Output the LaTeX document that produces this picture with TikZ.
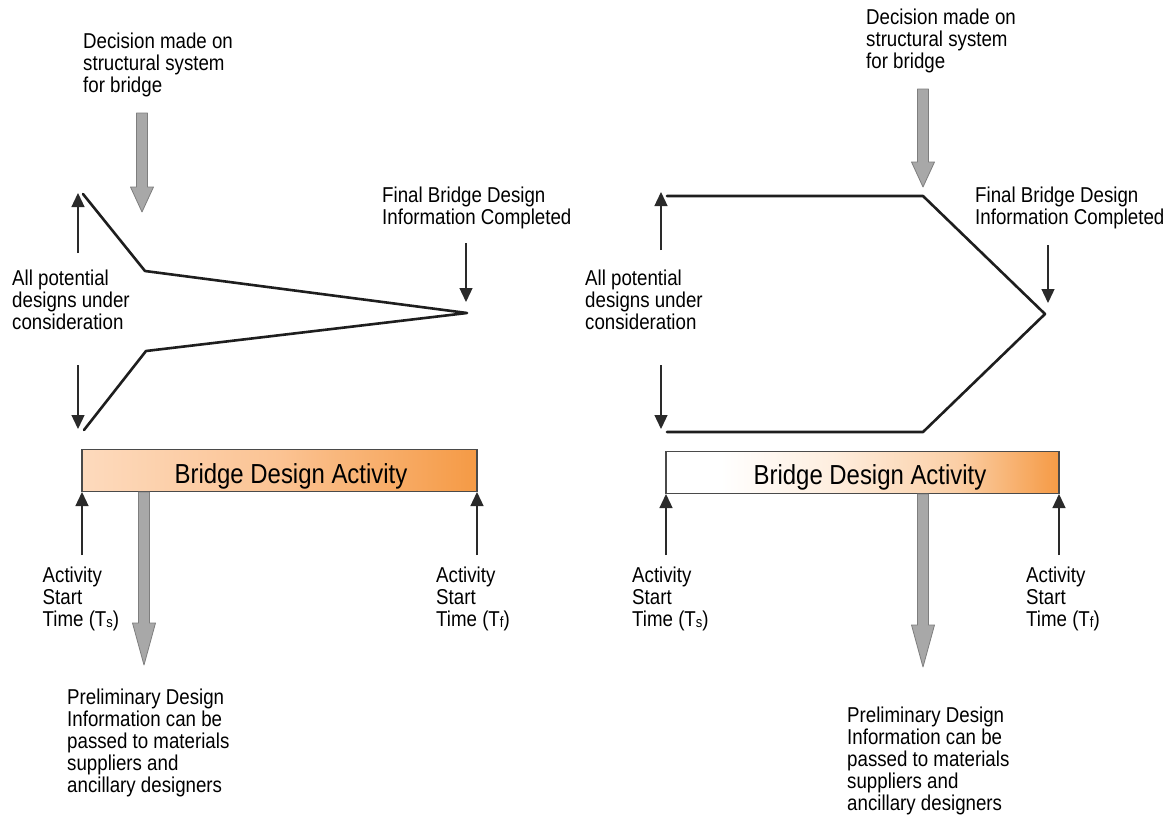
\documentclass[tikz,border=0pt]{standalone}
\usepackage{fontspec}
\setmainfont{Liberation Sans}[FakeStretch=0.87]
\usetikzlibrary{arrows.meta}

\definecolor{ink}{HTML}{1E1E1E}
\definecolor{shaft}{HTML}{2A2A2A}
\definecolor{frame}{HTML}{4A4A4A}
\definecolor{greyfill}{HTML}{A8A8A8}
\definecolor{greyedge}{HTML}{7E7E7E}
\definecolor{peachL}{HTML}{FDDABD}
\definecolor{peachM}{HTML}{FBC393}
\definecolor{peachR}{HTML}{F59A45}
\definecolor{peachF}{HTML}{FEEEDF}
\definecolor{peachG}{HTML}{FBCFA6}

% warm bar: pale peach to orange
\pgfdeclarehorizontalshading{barwarm}{100bp}{color(0bp)=(peachL); color(25bp)=(peachL); color(50bp)=(peachM); color(75bp)=(peachR); color(100bp)=(peachR)}
% fading bar: white first, orange at the far end
\pgfdeclarehorizontalshading{barfade}{100bp}{color(0bp)=(white); color(25bp)=(white); color(32bp)=(white); color(46bp)=(peachF); color(62bp)=(peachG); color(75bp)=(peachR); color(100bp)=(peachR)}

\newcommand{\lowidx}[1]{\raisebox{-1pt}{\fontsize{15}{15}\selectfont #1}}
% big grey arrow pointing down: centre x, top y, head start y, tip y
\newcommand{\greyarrow}[4]{%
  \path[greyarrowstyle] ({#1-5.5},#2) -- ({#1+5.5},#2) -- ({#1+5.5},#3) -- ({#1+11.5},#3)
    -- (#1,#4) -- ({#1-11.5},#3) -- ({#1-5.5},#3) -- cycle;}

\tikzset{
  txt/.style={anchor=north west, inner sep=0pt, align=left,
    font=\fontsize{21.5}{22}\selectfont},
  bartext/.style={anchor=base, inner sep=0pt, font=\fontsize{27.5}{30}\selectfont},
  bar/.style={draw=frame, line width=1.3pt, inner sep=0pt, minimum height=42pt},
  outline/.style={draw=ink, line width=2.6pt, line join=round, line cap=round},
  thin arrow/.style={draw=shaft, line width=1.3pt, -{Triangle[width=13pt,length=14pt]}},
  greyarrowstyle/.style={fill=greyfill, draw=greyedge, line width=0.8pt, line join=round},
}

\begin{document}
\begin{tikzpicture}[x=1pt, y=-1pt]
\useasboundingbox[fill=white] (0,0) rectangle (1170,814);

% ---------------- left panel: converging options ----------------
\node[txt] (decL) at (83,32.9) {Decision made on\\structural system\\for bridge};
\greyarrow{142}{113}{187}{212}

\draw[outline] (83,194) -- (145,271) -- (467,313) -- (146,351) -- (84,430);

\node[txt] (potL) at (12,269.6) {All potential\\designs under\\consideration};
\coordinate (potLup0) at (78,253);   \coordinate (potLup1) at (78,193);
\coordinate (potLdn0) at (78,365);   \coordinate (potLdn1) at (78,429);
\draw[thin arrow] (potLup0) -- (potLup1);
\draw[thin arrow] (potLdn0) -- (potLdn1);

\node[txt] (finL) at (382,186.9) {Final Bridge Design\\Information Completed};
\coordinate (finLa) at (466,243); \coordinate (finLb) at (466,302);
\draw[thin arrow] (finLa) -- (finLb);

\node[bar, shading=barwarm, minimum width=395pt] (barL) at (279.5,470.5) {};
\node[bartext] (barLtext) at (291,483.3) {Bridge Design Activity};

\coordinate (tsLa) at (82,555);  \coordinate (tsLb) at (82,492);
\coordinate (tfLa) at (477,555); \coordinate (tfLb) at (477,492);
\draw[thin arrow] (tsLa) -- (tsLb);
\draw[thin arrow] (tfLa) -- (tfLb);
\node[txt] (tsL) at (42.5,566.3) {Activity\\Start\\Time (T\lowidx{s})};
\node[txt] (tfL) at (436,566.3) {Activity\\Start\\Time (T\lowidx{f})};

\greyarrow{144}{492}{623}{665}
\node[txt] (preL) at (67,688.6) {Preliminary Design\\Information can be\\passed to materials\\suppliers and\\ancillary designers};

% ---------------- right panel: options kept open ----------------
\node[txt] (decR) at (866,8.9) {Decision made on\\structural system\\for bridge};
\greyarrow{923}{89}{162}{187}

\draw[outline] (667,196) -- (923,196) -- (1045,314) -- (923,432) -- (667,432);

\node[txt] (potR) at (585,269.6) {All potential\\designs under\\consideration};
\coordinate (potRup0) at (661,250);  \coordinate (potRup1) at (661,192);
\coordinate (potRdn0) at (661,365);  \coordinate (potRdn1) at (661,429);
\draw[thin arrow] (potRup0) -- (potRup1);
\draw[thin arrow] (potRdn0) -- (potRdn1);

\node[txt] (finR) at (975,186.9) {Final Bridge Design\\Information Completed};
\coordinate (finRa) at (1048,245); \coordinate (finRb) at (1048,303);
\draw[thin arrow] (finRa) -- (finRb);

\node[bar, shading=barfade, minimum width=393pt] (barR) at (862.5,472.5) {};
\node[bartext] (barRtext) at (870,484.5) {Bridge Design Activity};

\coordinate (tsRa) at (666,555);  \coordinate (tsRb) at (666,494);
\coordinate (tfRa) at (1059,555); \coordinate (tfRb) at (1059,494);
\draw[thin arrow] (tsRa) -- (tsRb);
\draw[thin arrow] (tfRa) -- (tfRb);
\node[txt] (tsR) at (632,566.3) {Activity\\Start\\Time (T\lowidx{s})};
\node[txt] (tfR) at (1026,566.3) {Activity\\Start\\Time (T\lowidx{f})};

\greyarrow{923}{494}{625}{667}
\node[txt] (preR) at (847,706.6) {Preliminary Design\\Information can be\\passed to materials\\suppliers and\\ancillary designers};
\end{tikzpicture}
\end{document}
